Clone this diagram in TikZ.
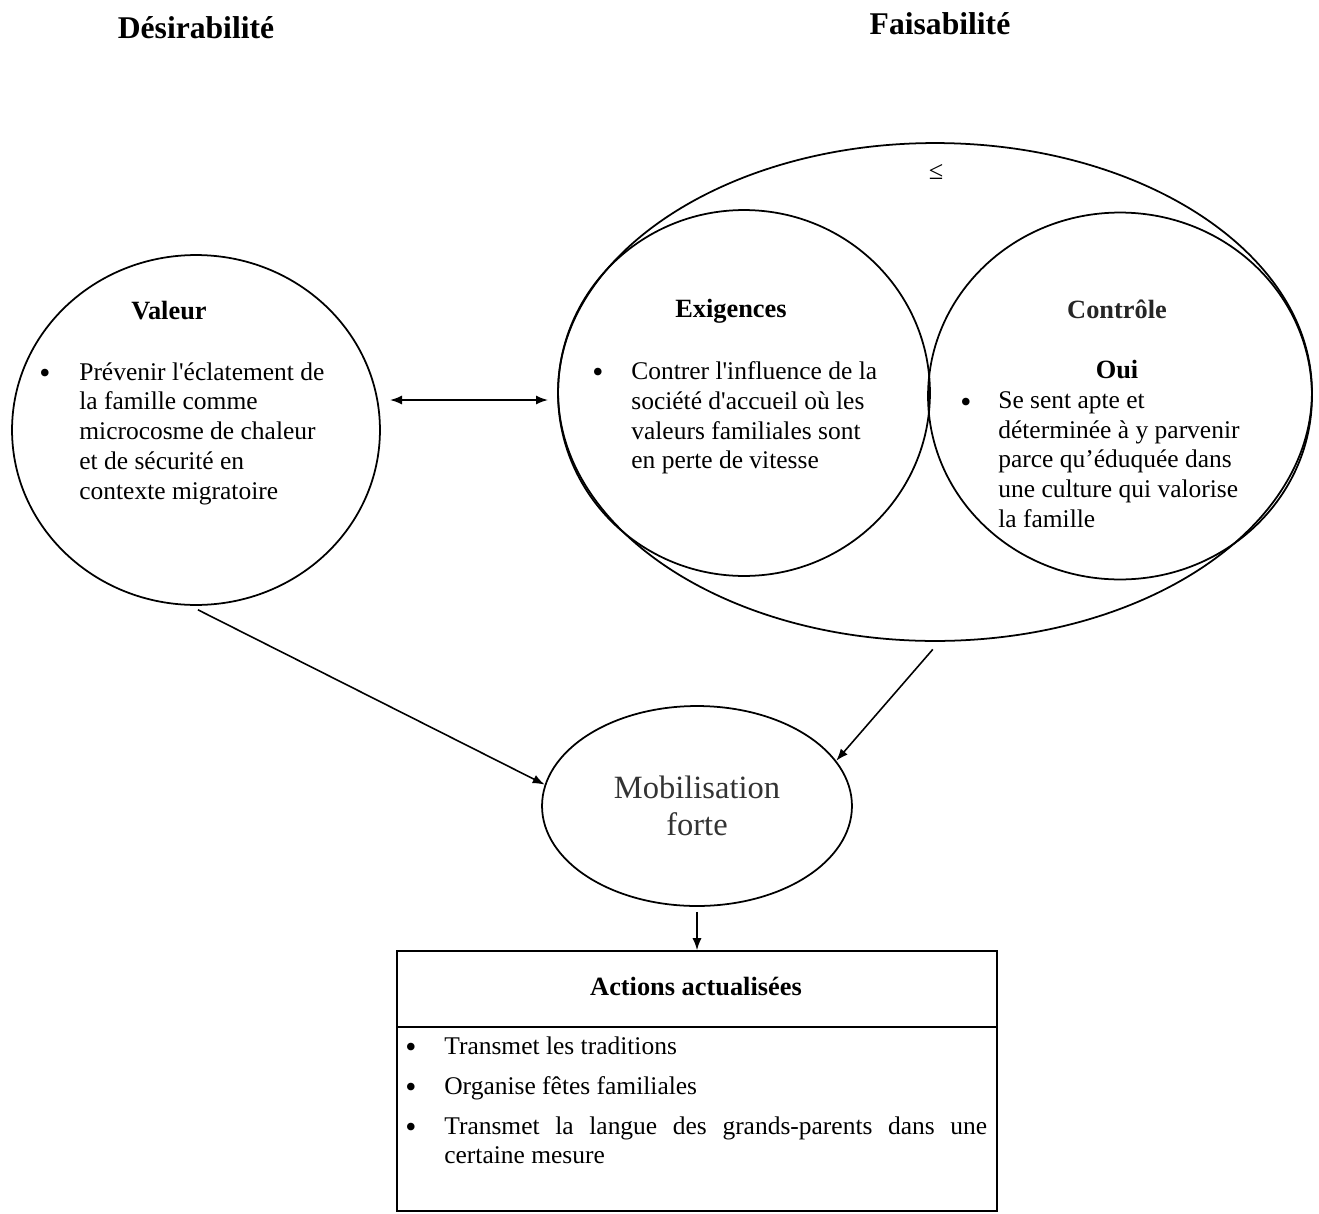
\documentclass[tikz,border=0pt]{standalone}
\usepackage{fontspec}
\setmainfont{Liberation Serif}
\usetikzlibrary{arrows.meta,shapes.geometric,positioning}
\tikzset{
  >={Latex[length=2.4mm,width=1.8mm]},
  circ/.style={draw,ellipse,line width=1pt,inner sep=0pt,minimum width=#1},
  head/.style={font=\fontsize{15}{18}\selectfont\bfseries},
  title/.style={font=\fontsize{18}{21}\selectfont\bfseries},
  body/.style={font=\fontsize{14.5}{17}\selectfont,align=left,inner sep=0pt,anchor=north west},
  bul/.style={font=\fontsize{18}{17}\selectfont,inner sep=0pt},
  flow/.style={->,line width=0.9pt},
}
\newcommand{\apos}{\textquotesingle}
\begin{document}
\begin{tikzpicture}[x=0.02cm,y=-0.02cm]
  \useasboundingbox (0,0) rectangle (1319,1214);
  % titres
  \node[title] (des) at (196,28) {Désirabilité};
  \node[title] (fai) at (940,24) {Faisabilité};
  % cercles
  \node[circ=7.36cm,minimum height=7cm] (valeur) at (196,430) {};
  \node[circ=15.08cm,minimum height=9.96cm] (faisa) at (935,392) {};
  \node[circ=7.44cm,minimum height=7.32cm] (exig) at (744,393) {};
  \node[circ=7.68cm,minimum height=7.34cm] (contr) at (1120,396) {};
  \node[circ=6.2cm,minimum height=4cm,font=\fontsize{18.5}{21}\selectfont,align=center,text=black!80] (mob) at (697,806) {Mobilisation\\forte};
  \node[font=\fontsize{15}{18}\selectfont] (leq) at (936,172) {≤};
  % textes des cercles
  \node[head] (tval) at (169,311) {Valeur};
  \node[bul] (bval) at (45,376) {•};
  \node[body] (xval) at (79,362) {Prévenir l\apos éclatement de\\la famille comme\\microcosme de chaleur\\et de sécurité en\\contexte migratoire};
  \node[head] (texi) at (731,311) {Exigences};
  \node[bul] (bexi) at (598,375) {•};
  \node[body] (xexi) at (631,361) {Contrer l\apos influence de la\\société d\apos accueil où les\\valeurs familiales sont\\en perte de vitesse};
  \node[head,text=black!85] (tcon) at (1117,309) {Contrôle};
  \node[head] (oui) at (1117,370) {Oui};
  \node[bul] (bcon) at (966,405) {•};
  \node[body] (xcon) at (998,391) {Se sent apte et\\déterminée à y parvenir\\parce qu’éduquée dans\\une culture qui valorise\\la famille};
  % actions
  \node[draw,line width=0.9pt,minimum width=12cm,minimum height=5.2cm,inner sep=0pt] (act) at (697,1081) {};
  \coordinate (sep) at (0,1027);
  \draw[line width=0.9pt] (act.west |- sep) -- (act.east |- sep);
  \node[head] (tact) at (696,986) {Actions actualisées};
  \foreach \y in {1050,1090,1130} \node[bul] at (411,\y) {•};
  \node[body] (a1) at (444,1036) {Transmet les traditions};
  \node[body] (a2) at (444,1076) {Organise fêtes familiales};
  \node[body,text width=10.86cm,align=justify] (a3) at (444,1116) {Transmet la langue des grands-parents dans une\linebreak certaine mesure};
  % fleches
  \coordinate (dl) at (390,400);
  \coordinate (dr) at (548,400);
  \draw[<->,line width=0.9pt] (dl) -- (dr);
  \draw[flow,shorten <=0.18cm] (valeur.268) -- (mob.172);
  \draw[flow,shorten <=0.2cm] (faisa.-89) -- (mob.18);
  \draw[flow,shorten <=0.1cm] (mob.south) -- (act.north);
\end{tikzpicture}
\end{document}
